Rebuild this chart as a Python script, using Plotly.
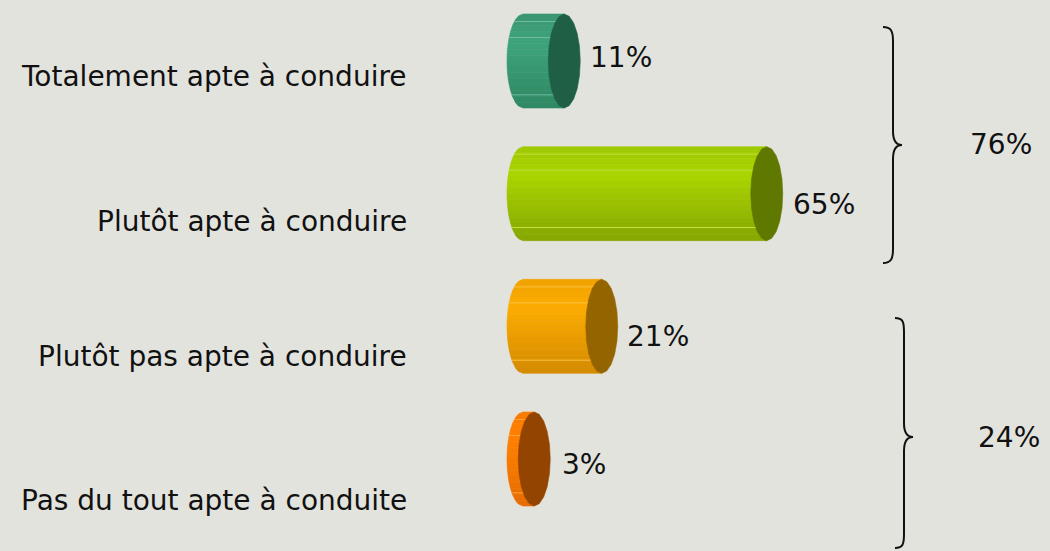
import numpy as np
import plotly.graph_objects as go

# ---------------- data ----------------
categories = [
    "Totalement apte à conduire",
    "Plutôt apte à conduire",
    "Plutôt pas apte à conduire",
    "Pas du tout apte à conduite",
]
values = [11, 65, 21, 3]
value_labels = ["11%", "65%", "21%", "3%"]
group_labels = ["76%", "24%"]

# ---------------- styles ----------------
body_top = [(58, 150, 112), (158, 200, 0), (240, 162, 0), (250, 122, 0)]
body_light = [(62, 164, 124), (170, 214, 0), (252, 172, 0), (255, 128, 0)]
body_bot = [(46, 136, 98), (132, 166, 0), (212, 138, 0), (230, 108, 0)]
cap_colors = ["#1f5f46", "#5f7800", "#936400", "#934400"]
bg = "#e3e3de"
txt = "#111111"
FONT = "DejaVu Sans"

W, H = 1050, 551
PX_PER_UNIT = 3.75          # pixels per percent
X0_PX = 523                 # pixel of 0 %
Y0_PX, DY_PX = 61, 132.67   # pixel centre of first bar, spacing
A_PX, B_PX = 16, 47         # cap half width / half height (px)

xr = [-X0_PX / PX_PER_UNIT, (W - X0_PX) / PX_PER_UNIT]
yr = [(H - Y0_PX) / DY_PX, -Y0_PX / DY_PX]
a = A_PX / PX_PER_UNIT
b = B_PX / DY_PX


def mix(c1, c2, t):
    return tuple(int(round(c1[k] + (c2[k] - c1[k]) * t)) for k in range(3))


def rgb(c):
    return "rgb(%d,%d,%d)" % c


fig = go.Figure()
NB = 16
for i, v in enumerate(values):
    for k in range(NB):
        y0 = -b + 2 * b * k / NB
        y1 = -b + 2 * b * (k + 1) / NB
        t = (k + 0.5) / NB
        if t < 0.3:
            col = mix(body_top[i], body_light[i], t / 0.3)
        else:
            col = mix(body_light[i], body_bot[i], (t - 0.3) / 0.7)
        ys = np.linspace(y1, y0, 4)
        xl = -a * np.sqrt(np.clip(1 - (ys / b) ** 2, 0, 1))
        px = np.concatenate([[v, v], xl, [v]])
        py = np.concatenate([[y0, y1], ys, [y0]]) + i
        fig.add_trace(go.Scatter(
            x=px, y=py, mode="lines", fill="toself",
            fillcolor=rgb(col), line=dict(width=0.6, color=rgb(col)),
            hoverinfo="skip", showlegend=False))
    for tt in (0.08, 0.25, 0.86):
        yy = -b + 2 * b * tt
        xl = -a * np.sqrt(1 - (yy / b) ** 2)
        lc = mix(body_light[i], (255, 255, 255), 0.25)
        fig.add_trace(go.Scatter(
            x=[xl, v], y=[yy + i, yy + i], mode="lines",
            line=dict(width=1, color=rgb(lc)),
            hoverinfo="skip", showlegend=False))

for i, v in enumerate(values):
    th = np.linspace(0, 2 * np.pi, 21)
    fig.add_trace(go.Scatter(
        x=v + a * np.cos(th), y=i + b * np.sin(th), mode="lines", fill="toself",
        fillcolor=cap_colors[i], line=dict(width=0.6, color=cap_colors[i]),
        hoverinfo="skip", showlegend=False))

annotations = []
cat_label_y_px = [77, 221, 356, 500]
for i, c in enumerate(categories):
    annotations.append(dict(
        x=409 / W, y=1 - cat_label_y_px[i] / H, xref="paper", yref="paper",
        text=c, showarrow=False, xanchor="right", yanchor="middle",
        font=dict(family=FONT, size=28, color=txt)))

val_dy_px = [-4, 11, 10, 5]
val_gap_px = [8, 8, 7, 10]
for i, v in enumerate(values):
    annotations.append(dict(
        x=v + a + val_gap_px[i] / PX_PER_UNIT, y=i + val_dy_px[i] / DY_PX,
        xref="x", yref="y", text=value_labels[i], showarrow=False,
        xanchor="left", yanchor="middle",
        font=dict(family=FONT, size=28, color=txt)))

braces = [
    dict(xe=883, xl=893, xt=902, yt=27, ym=145, yb=263, lx=968),
    dict(xe=895, xl=904, xt=913, yt=318, ym=437, yb=548, lx=976),
]


def P(x, y):
    return "%.5f,%.5f" % (x / W, 1 - y / H)


shapes = []
for g, br in enumerate(braces):
    xe, xl, xt, yt, ym, yb = br["xe"], br["xl"], br["xt"], br["yt"], br["ym"], br["yb"]
    path = ("M " + P(xe, yt) +
            " C " + P(xe + 8, yt) + " " + P(xl, yt + 4) + " " + P(xl, yt + 14) +
            " L " + P(xl, ym - 14) +
            " C " + P(xl, ym - 5) + " " + P(xl + 3, ym) + " " + P(xt, ym) +
            " C " + P(xl + 3, ym) + " " + P(xl, ym + 5) + " " + P(xl, ym + 14) +
            " L " + P(xl, yb - 14) +
            " C " + P(xl, yb - 4) + " " + P(xe + 8, yb) + " " + P(xe, yb))
    shapes.append(dict(type="path", xref="paper", yref="paper", path=path,
                       line=dict(color=txt, width=2)))
    annotations.append(dict(
        x=br["lx"] / W, y=1 - ym / H, xref="paper", yref="paper",
        text=group_labels[g], showarrow=False, xanchor="left", yanchor="middle",
        font=dict(family=FONT, size=28, color=txt)))

fig.update_layout(
    width=W, height=H, margin=dict(l=0, r=0, t=0, b=0),
    paper_bgcolor=bg, plot_bgcolor=bg,
    xaxis=dict(range=xr, visible=False, showgrid=False, zeroline=False),
    yaxis=dict(range=yr, visible=False, showgrid=False, zeroline=False),
    annotations=annotations, shapes=shapes, showlegend=False,
)
fig.write_html(
    "out.html",
    config={"displayModeBar": False},
    post_script="document.body.style.margin='0';document.body.style.overflow='hidden';"
                "document.body.style.background='" + bg + "';",
)
